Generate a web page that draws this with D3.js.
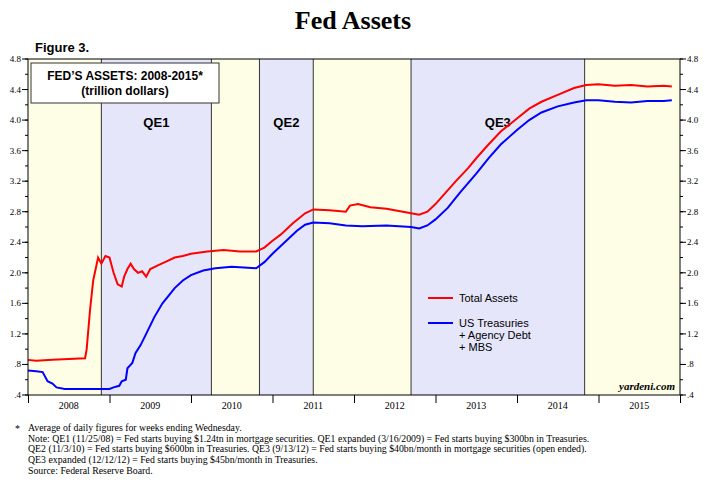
<!DOCTYPE html><html><head><script src="https://cdn.jsdelivr.net/npm/d3@7"></script>
<style>body{margin:0;background:#fff}</style></head><body><svg id="c" width="707" height="484"></svg>
<script>
const years=["2008","2009","2010","2011","2012","2013","2014","2015"];
const yTicks=[0.4,0.8,1.2,1.6,2.0,2.4,2.8,3.2,3.6,4.0,4.4,4.8];
const periods=[[2008,2008.9,"y",""],[2008.9,2010.25,"b","QE1"],[2010.25,2010.84,"y",""],[2010.84,2011.5,"b","QE2"],[2011.5,2012.7,"y",""],[2012.7,2014.83,"b","QE3"],[2014.83,2016,"y",""]];
const totalAssets=[[2008,0.86],[2008.1,0.85],[2008.3,0.86],[2008.5,0.87],[2008.7,0.88],[2008.72,1.0],[2008.76,1.5],[2008.8,1.9],[2008.84,2.1],[2008.86,2.2],[2008.9,2.12],[2008.95,2.22],[2009.0,2.2],[2009.05,2.0],[2009.1,1.85],[2009.15,1.82],[2009.18,1.95],[2009.22,2.05],[2009.26,2.12],[2009.3,2.05],[2009.35,2.0],[2009.4,2.02],[2009.45,1.95],[2009.5,2.05],[2009.6,2.1],[2009.7,2.15],[2009.8,2.2],[2009.9,2.22],[2010.0,2.25],[2010.2,2.28],[2010.4,2.3],[2010.6,2.28],[2010.8,2.28],[2010.9,2.33],[2011.0,2.42],[2011.1,2.5],[2011.25,2.65],[2011.4,2.78],[2011.5,2.83],[2011.7,2.82],[2011.9,2.8],[2011.95,2.88],[2012.05,2.9],[2012.2,2.86],[2012.4,2.84],[2012.6,2.8],[2012.8,2.76],[2012.9,2.8],[2013.0,2.9],[2013.1,3.02],[2013.25,3.2],[2013.4,3.37],[2013.5,3.5],[2013.65,3.68],[2013.8,3.85],[2014.0,4.02],[2014.15,4.15],[2014.3,4.24],[2014.5,4.33],[2014.7,4.42],[2014.85,4.46],[2015.0,4.47],[2015.2,4.45],[2015.4,4.46],[2015.6,4.44],[2015.8,4.45],[2015.9,4.44]];
const treasuries=[[2008,0.72],[2008.1,0.71],[2008.18,0.7],[2008.24,0.58],[2008.3,0.55],[2008.35,0.5],[2008.45,0.48],[2008.7,0.48],[2009.0,0.48],[2009.05,0.5],[2009.12,0.52],[2009.15,0.58],[2009.2,0.6],[2009.22,0.75],[2009.28,0.82],[2009.32,0.95],[2009.38,1.05],[2009.45,1.2],[2009.55,1.42],[2009.65,1.6],[2009.8,1.8],[2009.9,1.9],[2010.0,1.97],[2010.15,2.03],[2010.3,2.06],[2010.5,2.08],[2010.8,2.06],[2010.9,2.14],[2011.0,2.25],[2011.15,2.4],[2011.3,2.55],[2011.4,2.63],[2011.5,2.66],[2011.7,2.65],[2011.9,2.62],[2012.1,2.61],[2012.4,2.62],[2012.7,2.6],[2012.8,2.58],[2012.9,2.62],[2013.0,2.7],[2013.15,2.85],[2013.3,3.05],[2013.5,3.3],[2013.65,3.5],[2013.8,3.68],[2014.0,3.87],[2014.15,4.0],[2014.3,4.1],[2014.5,4.18],[2014.7,4.23],[2014.85,4.26],[2015.0,4.26],[2015.2,4.24],[2015.4,4.23],[2015.6,4.25],[2015.8,4.25],[2015.9,4.26]];
const svg=d3.select("#c");
const L=28,R=680,T=59,B=395;
const x=d3.scaleLinear().domain([2008,2016]).range([L,R]);
const y=d3.scaleLinear().domain([0.4,4.8]).range([B,T]);
svg.append("text").attr("x",353).attr("y",29).attr("text-anchor","middle").attr("font-family","Liberation Serif").attr("font-weight","bold").attr("font-size",26).text("Fed Assets");
svg.append("text").attr("x",35).attr("y",52).attr("font-family","Liberation Sans").attr("font-weight","bold").attr("font-size",13).text("Figure 3.");
periods.forEach(p=>{svg.append("rect").attr("x",x(p[0])).attr("y",T).attr("width",x(p[1])-x(p[0])).attr("height",B-T).attr("fill",p[2]=="y"?"#fefee6":"#e6e6fa");
 if(p[3])svg.append("text").attr("x",(x(p[0])+x(p[1]))/2).attr("y",127).attr("text-anchor","middle").attr("font-family","Liberation Sans").attr("font-weight","bold").attr("font-size",13).text(p[3]);});
periods.slice(1).forEach(p=>svg.append("line").attr("x1",x(p[0])).attr("x2",x(p[0])).attr("y1",T).attr("y2",B).attr("stroke","#333").attr("stroke-width",1));
const line=d3.line().x(d=>x(d[0])).y(d=>y(d[1]));
svg.append("path").attr("d",line(treasuries)).attr("fill","none").attr("stroke","#0000ff").attr("stroke-width",2);
svg.append("path").attr("d",line(totalAssets)).attr("fill","none").attr("stroke","#ff0000").attr("stroke-width",2);
svg.append("rect").attr("x",L).attr("y",T).attr("width",R-L).attr("height",B-T).attr("fill","none").attr("stroke","#000");
const minor=d3.range(0.4,4.81,0.2);
[[L,-1],[R,1]].forEach(([xx,s])=>{
 minor.forEach(v=>svg.append("line").attr("x1",xx).attr("x2",xx+s*3).attr("y1",y(v)).attr("y2",y(v)).attr("stroke","#000"));
 yTicks.forEach(v=>{svg.append("line").attr("x1",xx).attr("x2",xx+s*6).attr("y1",y(v)).attr("y2",y(v)).attr("stroke","#000");
  svg.append("text").attr("x",s<0?xx-7:xx+7).attr("y",y(v)+3).attr("text-anchor",s<0?"end":"start").attr("font-family","Liberation Serif").attr("font-size",9).text(v==0.4?".4":v==0.8?".8":v.toFixed(1));});
});
const xa=svg.append("g").attr("transform",`translate(0,${B})`).call(d3.axisBottom(x).tickValues(d3.range(2008,2017)).tickFormat("").tickSize(8));
xa.select(".domain").remove();
years.forEach((yr,i)=>svg.append("text").attr("x",x(+yr+0.5)).attr("y",B+14).attr("text-anchor","middle").attr("font-family","Liberation Serif").attr("font-size",10).text(yr));
svg.append("rect").attr("x",31).attr("y",63).attr("width",188).attr("height",40).attr("fill","#fff").attr("stroke","#333");
svg.append("text").attr("x",125).attr("y",80).attr("text-anchor","middle").attr("font-family","Liberation Sans").attr("font-weight","bold").attr("font-size",12).text("FED’S ASSETS: 2008-2015*");
svg.append("text").attr("x",125).attr("y",95).attr("text-anchor","middle").attr("font-family","Liberation Sans").attr("font-weight","bold").attr("font-size",12).text("(trillion dollars)");
const lg=[["#ff0000",298,["Total Assets"]],["#0000ff",323,["US Treasuries","+ Agency Debt","+ MBS"]]];
lg.forEach(([c,yy,t])=>{svg.append("line").attr("x1",428).attr("x2",453).attr("y1",yy).attr("y2",yy).attr("stroke",c).attr("stroke-width",2);
 t.forEach((s,i)=>svg.append("text").attr("x",459).attr("y",yy+4+i*12).attr("font-family","Liberation Sans").attr("font-size",11).text(s));});
svg.append("text").attr("x",675).attr("y",390).attr("text-anchor","end").attr("font-family","Liberation Serif").attr("font-style","italic").attr("font-weight","bold").attr("font-size",11).text("yardeni.com");
const notes=["Average of daily figures for weeks ending Wednesday.","Note: QE1 (11/25/08) = Fed starts buying $1.24tn in mortgage securities. QE1 expanded (3/16/2009) = Fed starts buying $300bn in Treasuries.","QE2 (11/3/10) = Fed starts buying $600bn in Treasuries. QE3 (9/13/12) = Fed starts buying $40bn/month in mortgage securities (open ended).","QE3 expanded (12/12/12) = Fed starts buying $45bn/month in Treasuries.","Source: Federal Reserve Board."];
svg.append("text").attr("x",15).attr("y",432).attr("font-family","Liberation Serif").attr("font-size",10).text("*");
notes.forEach((n,i)=>svg.append("text").attr("x",28).attr("y",431+i*10.7).attr("font-family","Liberation Serif").attr("font-size",9.8).text(n));
</script></body></html>
